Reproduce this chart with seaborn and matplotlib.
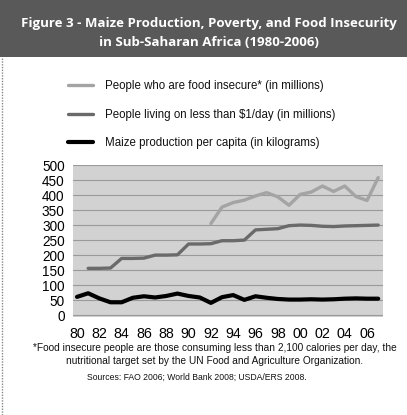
import matplotlib
matplotlib.use("Agg")
import matplotlib.pyplot as plt
from matplotlib.patches import Rectangle
from matplotlib.lines import Line2D
import seaborn as sns
import pandas as pd

years = list(range(1980, 2008))
maize_kg = [61, 73, 56, 43, 43, 58, 63, 59, 64, 72, 64, 59, 41, 60, 67, 51,
            63, 58, 54, 52, 52, 53, 52, 53, 55, 56, 55, 55]
poverty_m = [None, 156, 156, 157, 189, 189, 190, 200, 200, 201, 237, 237, 238, 248,
             248, 250, 284, 286, 288, 298, 300, 299, 296, 295, 297, 298, 299, 300]
insecure_m = [None] * 12 + [305, 360, 375, 383, 397, 408, 394, 366, 402, 410,
                            430, 412, 430, 395, 382, 458]
tick_years = list(range(1980, 2007, 2))
tick_labels = ["80", "82", "84", "86", "88", "90", "92", "94", "96", "98",
               "00", "02", "04", "06"]
series_names = ["People who are food insecure* (in millions)",
                "People living on less than $1/day (in millions)",
                "Maize production per capita (in kilograms)"]

df = pd.DataFrame({"year": years, "insecure": insecure_m,
                   "poverty": poverty_m, "maize": maize_kg})

sns.set_theme(style="white")
plt.rcParams["font.family"] = ["Liberation Sans", "DejaVu Sans"]

W, H = 407, 415
fig = plt.figure(figsize=(W / 100, H / 100), dpi=100)
fig.patch.set_facecolor("white")

# title banner
fig.patches.append(Rectangle((0, 1 - 57 / H), 1, 57 / H, transform=fig.transFigure,
                             facecolor="#595959", edgecolor="none", zorder=0))
title_font = ["Open Sans", "DejaVu Sans"]
fig.text(0.514, 1 - 23 / H, "Figure 3 - Maize Production, Poverty, and Food Insecurity",
         ha="center", va="center", color="white", fontsize=9.5, fontweight="bold",
         family=title_font)
fig.text(0.514, 1 - 43 / H, "in Sub-Saharan Africa (1980-2006)",
         ha="center", va="center", color="white", fontsize=9.5, fontweight="bold",
         family=title_font)

# dotted left border of the panel
fig.add_artist(Line2D([2 / W, 2 / W], [0, 1 - 57 / H], transform=fig.transFigure,
                      color="#888888", lw=1, linestyle=(0, (1, 1))))

ax_left, ax_right, ax_top, ax_bot = 73, 383, 165, 317
ax = fig.add_axes([ax_left / W, 1 - ax_bot / H, (ax_right - ax_left) / W,
                   (ax_bot - ax_top) / H])
ax.set_facecolor("#d2d2d2")

sns.lineplot(data=df, x="year", y="insecure", ax=ax, color="#a4a4a4", lw=2.4,
             label=series_names[0])
sns.lineplot(data=df, x="year", y="poverty", ax=ax, color="#6a6a6a", lw=2.4,
             label=series_names[1])
sns.lineplot(data=df, x="year", y="maize", ax=ax, color="black", lw=3.0,
             label=series_names[2])

ax.set_xlim(1979.64, 2007.43)
ax.set_ylim(-6, 500)
ax.set_yticks(range(0, 501, 50))
ax.set_xticks(tick_years)
ax.set_xticklabels(tick_labels)
ax.yaxis.grid(True, color="#9a9a9a", lw=0.8)
ax.set_axisbelow(True)
for s in ax.spines.values():
    s.set_visible(False)
ax.tick_params(axis="both", length=0, colors="black")
ax.tick_params(axis="y", pad=6, labelsize=9.8)
ax.tick_params(axis="x", pad=7, labelsize=10.3)
ax.set_xlabel("")
ax.set_ylabel("")

leg = ax.legend(loc="upper left", bbox_to_anchor=(68 / W, 1 - 80 / H),
                bbox_transform=fig.transFigure, frameon=False, fontsize=8.3,
                handlelength=2.2, handletextpad=1.05, labelspacing=1.45,
                borderaxespad=0, borderpad=0)
for t in leg.get_texts():
    t.set_color("#111111")

fig.text(215 / W, 1 - 348 / H,
         "*Food insecure people are those consuming less than 2,100 calories per day, the",
         ha="center", va="center", fontsize=7.3, color="#111111")
fig.text(215 / W, 1 - 361 / H,
         "nutritional target set by the UN Food and Agriculture Organization.",
         ha="center", va="center", fontsize=7.3, color="#111111")
fig.text(197 / W, 1 - 377 / H, "Sources: FAO 2006; World Bank 2008; USDA/ERS 2008.",
         ha="center", va="center", fontsize=6.2, color="#111111")

fig.savefig("out.png", dpi=100)
